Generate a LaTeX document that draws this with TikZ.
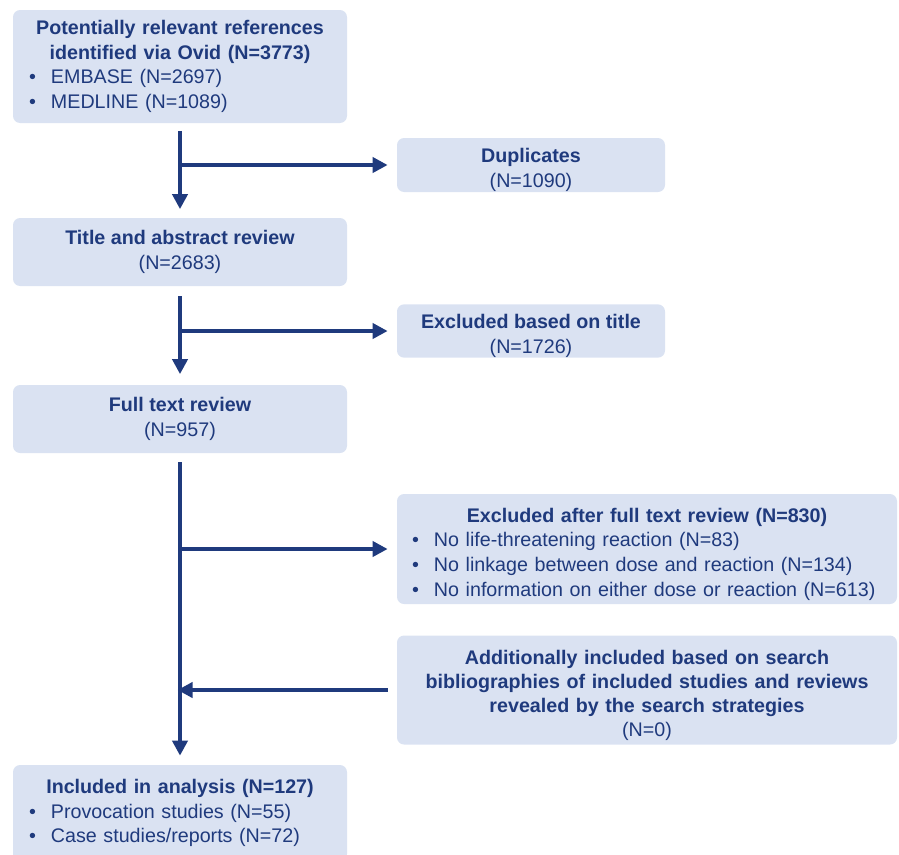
\documentclass[tikz,border=0pt]{standalone}
\usepackage{fontspec}
\setmainfont{Liberation Sans}
\usepackage{xcolor}
\usetikzlibrary{arrows, arrows.meta}

\definecolor{boxfill}{HTML}{DAE2F2}
\definecolor{navy}{HTML}{1F3A7D}

% bullet line, flush left inside a centred node
\newcommand{\bul}[1]{\makebox[0.44cm][l]{\textbullet}#1\hfill\mbox{}}
% taller first line, pushes the text a bit down
\newcommand{\dropline}{\rule{0pt}{14pt}}

\begin{document}
\begin{tikzpicture}[
  box/.style={fill=boxfill, rounded corners=4pt, text=navy, align=center,
    inner sep=0pt, font=\fontsize{11.2}{14}\selectfont},
  narrowbox/.style={box, minimum width=6.68cm},
  widebox/.style={box, minimum width=10.0cm, text width=9.4cm},
  flow/.style={draw=navy, line width=2.8pt,
    -{Triangle[length=0.3cm,width=0.3cm]}}
]
\useasboundingbox (0,0) rectangle (17.98,-17.08);

%left column
\node[narrowbox, minimum height=2.26cm, text width=6.04cm] (refs) at (3.60,-1.33)
  {\textbf{Potentially relevant references}\\
   \textbf{identified via Ovid (N=3773)}\\
   \bul{EMBASE (N=2697)}\\
   \bul{MEDLINE (N=1089)}};

\node[narrowbox, minimum height=1.36cm] (title) at (3.60,-5.04)
  {\textbf{Title and abstract review}\\(N=2683)};

\node[narrowbox, minimum height=1.36cm] (full) at (3.60,-8.38)
  {\textbf{Full text review}\\(N=957)};

\node[narrowbox, minimum height=1.92cm, text width=6.04cm] (incl) at (3.60,-16.26)
  {\textbf{Included in analysis (N=127)}\\
   \bul{Provocation studies (N=55)}\\
   \bul{Case studies/reports (N=72)}};

%right column
\node[box, minimum width=5.36cm, minimum height=1.08cm] (dup) at (10.62,-3.30)
  {\dropline\textbf{Duplicates}\\(N=1090)};

\node[box, minimum width=5.36cm, minimum height=1.06cm] (extitle) at (10.62,-6.62)
  {\dropline\textbf{Excluded based on title}\\(N=1726)};

\node[widebox, minimum height=2.2cm] (exfull) at (12.94,-10.98)
  {\dropline\textbf{Excluded after full text review (N=830)}\\
   \bul{No life-threatening reaction (N=83)}\\
   \bul{No linkage between dose and reaction (N=134)}\\
   \bul{No information on either dose or reaction (N=613)}};

\node[widebox, minimum height=2.18cm, font=\fontsize{11.2}{13.6}\selectfont] (addl) at (12.94,-13.80)
  {\dropline\textbf{Additionally included based on search}\\
   \textbf{bibliographies of included studies and reviews}\\
   \textbf{revealed by the search strategies}\\
   (N=0)};

%down arrows
\draw[flow, shorten <=0.15cm, shorten >=0.17cm] (refs.south) -- (title.north);
\draw[flow, shorten <=0.2cm, shorten >=0.21cm] (title.south) -- (full.north);
\draw[flow, shorten <=0.18cm, shorten >=0.18cm] (full.south) -- (incl.north);

%side arrows
\draw[flow, shorten >=0.18cm] (refs.south |- dup.west) -- (dup.west);
\draw[flow, shorten >=0.18cm] (title.south |- extitle.west) -- (extitle.west);
\draw[flow, shorten >=0.18cm] (full.south |- exfull.west) -- (exfull.west);
\draw[flow, shorten <=0.18cm, shorten >=-0.05cm] (addl.west) -- (addl.west -| incl.north);

\end{tikzpicture}
\end{document}
